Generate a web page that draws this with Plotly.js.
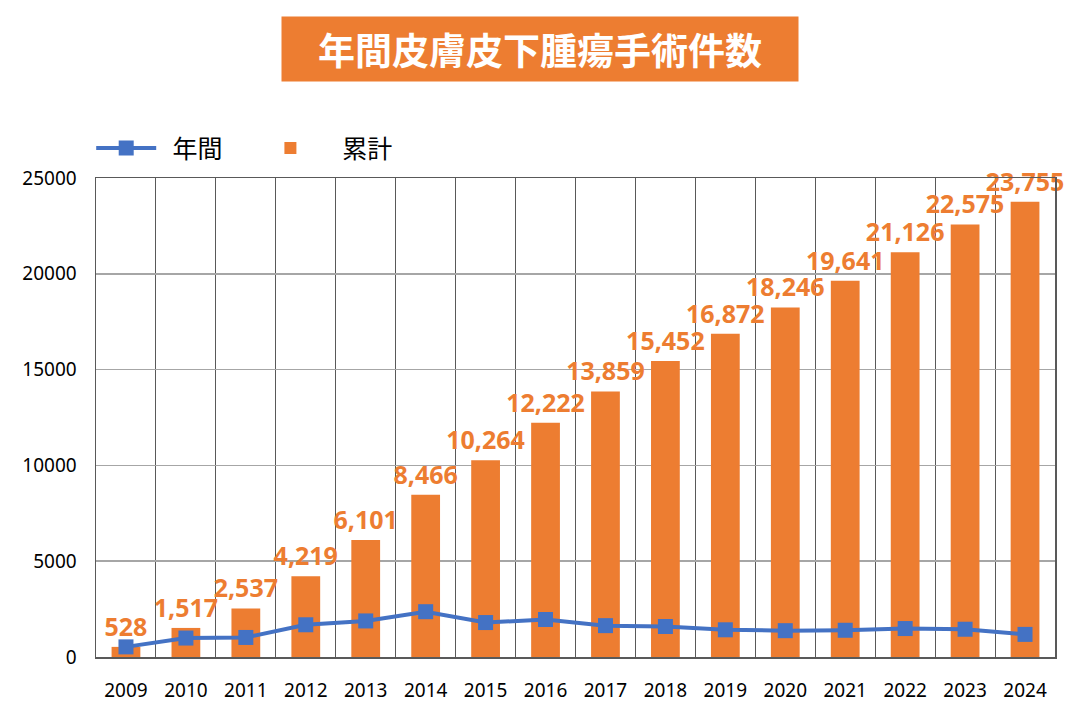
<!DOCTYPE html>
<html>
<head>
<meta charset="utf-8">
<script src="https://cdn.plot.ly/plotly-3.0.1.min.js"></script>
<style>
  html, body { margin: 0; padding: 0; background: #fff; }
  #div_plot { width: 1080px; height: 716px; }
</style>
</head>
<body>
<div id="div_plot"></div>
<script>
var years = ['2009', '2010', '2011', '2012', '2013', '2014', '2015', '2016',
             '2017', '2018', '2019', '2020', '2021', '2022', '2023', '2024'];
var cumulative = [528, 1517, 2537, 4219, 6101, 8466, 10264, 12222,
                  13859, 15452, 16872, 18246, 19641, 21126, 22575, 23755];
var annual = [528, 989, 1020, 1682, 1882, 2365, 1798, 1958,
              1637, 1593, 1420, 1374, 1395, 1485, 1449, 1180];
var yTicks = [0, 5000, 10000, 15000, 20000, 25000];

function init_graph(){

   var trace_total = {
      x: years,
      y: cumulative,
      name: '\u00a0\u00a0\u00a0累計',
      type: 'bar',
      width: 0.48,
      marker: { color: '#ED7D31' },
      hoverinfo: 'x+y'
   };

   // labels above the bars (invisible marker pushes the text up a bit)
   var trace_labels = {
      x: years,
      y: cumulative,
      type: 'scatter',
      mode: 'markers+text',
      marker: { size: 6, color: 'rgba(0,0,0,0)' },
      text: cumulative.map(v => v.toLocaleString('en-US')),
      textposition: 'top center',
      textfont: { family: 'Open Sans', size: 25, color: '#ED7D31', weight: 'bold' },
      cliponaxis: false,
      showlegend: false,
      hoverinfo: 'skip'
   };

   var trace_year = {
      x: years,
      y: annual,
      name: '\u00a0\u00a0年間\u00a0\u00a0\u00a0\u00a0\u00a0',
      type: 'scatter',
      mode: 'lines+markers',
      line: { color: '#4472C4', width: 4 },
      marker: { symbol: 'square', size: 15, color: '#4472C4' },
      cliponaxis: false
   };

   var layout = {
      width: 1080,
      height: 716,
      paper_bgcolor: '#ffffff',
      plot_bgcolor: '#ffffff',
      margin: { l: 96, r: 25, t: 178, b: 59 },
      showlegend: true,
      legend: {
         orientation: 'h',
         x: -0.005,
         xanchor: 'left',
         y: 1.062,
         yanchor: 'middle',
         traceorder: 'reversed',
         font: { family: 'Noto Sans CJK JP', size: 25, color: '#000' },
         itemwidth: 60
      },
      font: { family: 'Noto Sans', color: '#000' },
      xaxis: {
         type: 'category',
         range: [-0.5, 15.5],
         tickson: 'boundaries',
         showgrid: true,
         gridcolor: '#595959',
         gridwidth: 1,
         showline: true,
         linecolor: '#595959',
         linewidth: 1.5,
         mirror: true,
         ticks: '',
         ticklabelstandoff: 16,
         tickfont: { family: 'Noto Sans', size: 19, color: '#000' },
         fixedrange: true
      },
      yaxis: {
         range: [0, 25000],
         tickvals: yTicks,
         ticktext: yTicks.map(String),
         showgrid: true,
         gridcolor: '#a6a6a6',
         gridwidth: 1.5,
         zeroline: false,
         showline: true,
         linecolor: '#595959',
         linewidth: 1.5,
         mirror: true,
         ticks: '',
         ticklabelstandoff: 14,
         tickfont: { family: 'Noto Sans', size: 19, color: '#000' },
         fixedrange: true
      },
      annotations: [{
         text: '<b>年間皮膚皮下腫瘍手術件数</b>',
         xref: 'paper',
         yref: 'paper',
         x: 0.463,
         y: 1.269,
         xanchor: 'center',
         yanchor: 'middle',
         width: 514,
         height: 62,
         showarrow: false,
         bgcolor: '#ED7D31',
         font: { family: 'Noto Sans CJK JP', size: 37, color: '#ffffff' }
      }]
   };

   var config = {
      responsive: false,
      displayModeBar: false,
      staticPlot: true
   };

   Plotly.newPlot('div_plot', [trace_total, trace_labels, trace_year], layout, config);
}

init_graph();
</script>
</body>
</html>
